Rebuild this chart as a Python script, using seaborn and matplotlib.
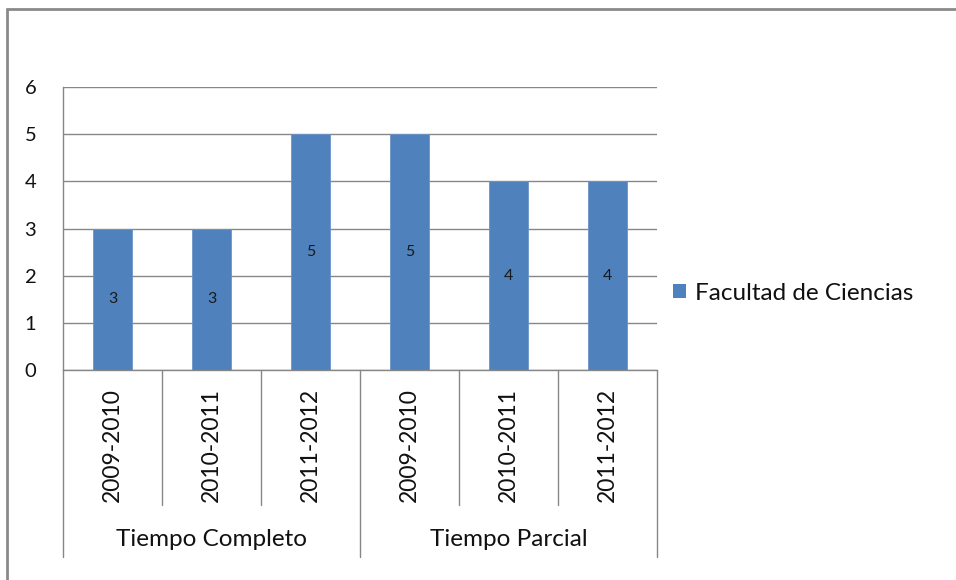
import matplotlib
matplotlib.use("Agg")
import matplotlib.pyplot as plt
import matplotlib.transforms as mtransforms
from matplotlib.lines import Line2D
import seaborn as sns
import pandas as pd

# ---- data ----
groups = ["Tiempo Completo", "Tiempo Parcial"]
years = ["2009-2010", "2010-2011", "2011-2012"]
tiempo_completo = [3, 3, 5]
tiempo_parcial = [5, 4, 4]
series_name = "Facultad de Ciencias"
y_ticks = [0, 1, 2, 3, 4, 5, 6]

keys, grp_col, yr_col, vals = [], [], [], []
for g, v in zip(groups, [tiempo_completo, tiempo_parcial]):
    for yr, val in zip(years, v):
        keys.append(f"{g} | {yr}")
        grp_col.append(g)
        yr_col.append(yr)
        vals.append(val)
df = pd.DataFrame({"key": keys, "grupo": grp_col, "periodo": yr_col,
                   "valor": vals, "serie": series_name})

sns.set_style("white")
plt.rcParams["font.family"] = ["Lato", "DejaVu Sans"]

BAR = "#4F81BD"
GRID = "#878787"
TXT = "#111111"

fig = plt.figure(figsize=(9.56, 5.8), dpi=100)
W, H = 956, 580
x0, x1, ytop, ybot = 63, 657, 87, 370
ax = fig.add_axes([x0 / W, 1 - ybot / H, (x1 - x0) / W, (ybot - ytop) / H])

sns.barplot(data=df, x="key", y="valor", hue="serie", order=keys,
            palette=[BAR], saturation=1, width=0.4, ax=ax, legend=False,
            edgecolor="#6d93c8", linewidth=0.6)
ax.set_xlim(-0.5, len(keys) - 0.5)
ax.set_ylim(0, 6)
ax.set_yticks(y_ticks)
ax.set_xticks([])
ax.set_xlabel("")
ax.set_ylabel("")
ax.yaxis.grid(True, color=GRID, linewidth=1.0)
ax.set_axisbelow(True)
for s in ["top", "right"]:
    ax.spines[s].set_visible(False)
for s in ["left", "bottom"]:
    ax.spines[s].set_color(GRID)
    ax.spines[s].set_linewidth(1.0)
ax.tick_params(axis="y", direction="out", length=7.2, width=1.0, color=GRID,
               pad=12, labelsize=14.5, labelcolor=TXT)
ax.tick_params(axis="x", length=0)

for c in ax.containers:
    ax.bar_label(c, label_type="center", fontsize=11.5, color="#1a1a1a")

# category axis (multi-level)
tr = mtransforms.blended_transform_factory(ax.transData, ax.transAxes)
ph = ybot - ytop
short_y = (ybot - 505) / ph
long_y = (ybot - 557) / ph
n_per = len(years)
for i in range(len(keys) + 1):
    xpos = i - 0.5
    yend = long_y if i % n_per == 0 else short_y
    ax.add_line(Line2D([xpos, xpos], [0, yend], transform=tr, color=GRID,
                       linewidth=1.0, clip_on=False))
for i, yr in enumerate(yr_col):
    ax.text(i, (ybot - 445) / ph, yr, transform=tr, rotation=90,
            ha="center", va="center", fontsize=16.5, color=TXT)
for gi, g in enumerate(groups):
    ax.text(gi * n_per + (n_per - 1) / 2, (ybot - 540) / ph, g, transform=tr,
            ha="center", va="center", fontsize=17.5, color=TXT)

# legend
handles = [plt.Rectangle((0, 0), 1, 1, facecolor=BAR, edgecolor="none")]
ax.legend(handles, [series_name], loc="center left",
          bbox_to_anchor=(673 / W, 1 - 293 / H), bbox_transform=fig.transFigure,
          frameon=False, fontsize=17.5, handlelength=0.55, handleheight=0.55,
          handletextpad=0.35, borderaxespad=0, borderpad=0, labelcolor=TXT)

# outer chart-area border (left and top only visible)
fig.add_artist(Line2D([7 / W, 7 / W], [0, 1 - 9 / H], transform=fig.transFigure,
                      color="#8a8a8a", linewidth=2))
fig.add_artist(Line2D([7 / W, 1], [1 - 9 / H, 1 - 9 / H], transform=fig.transFigure,
                      color="#8a8a8a", linewidth=2))

fig.savefig("out.png", dpi=100)
